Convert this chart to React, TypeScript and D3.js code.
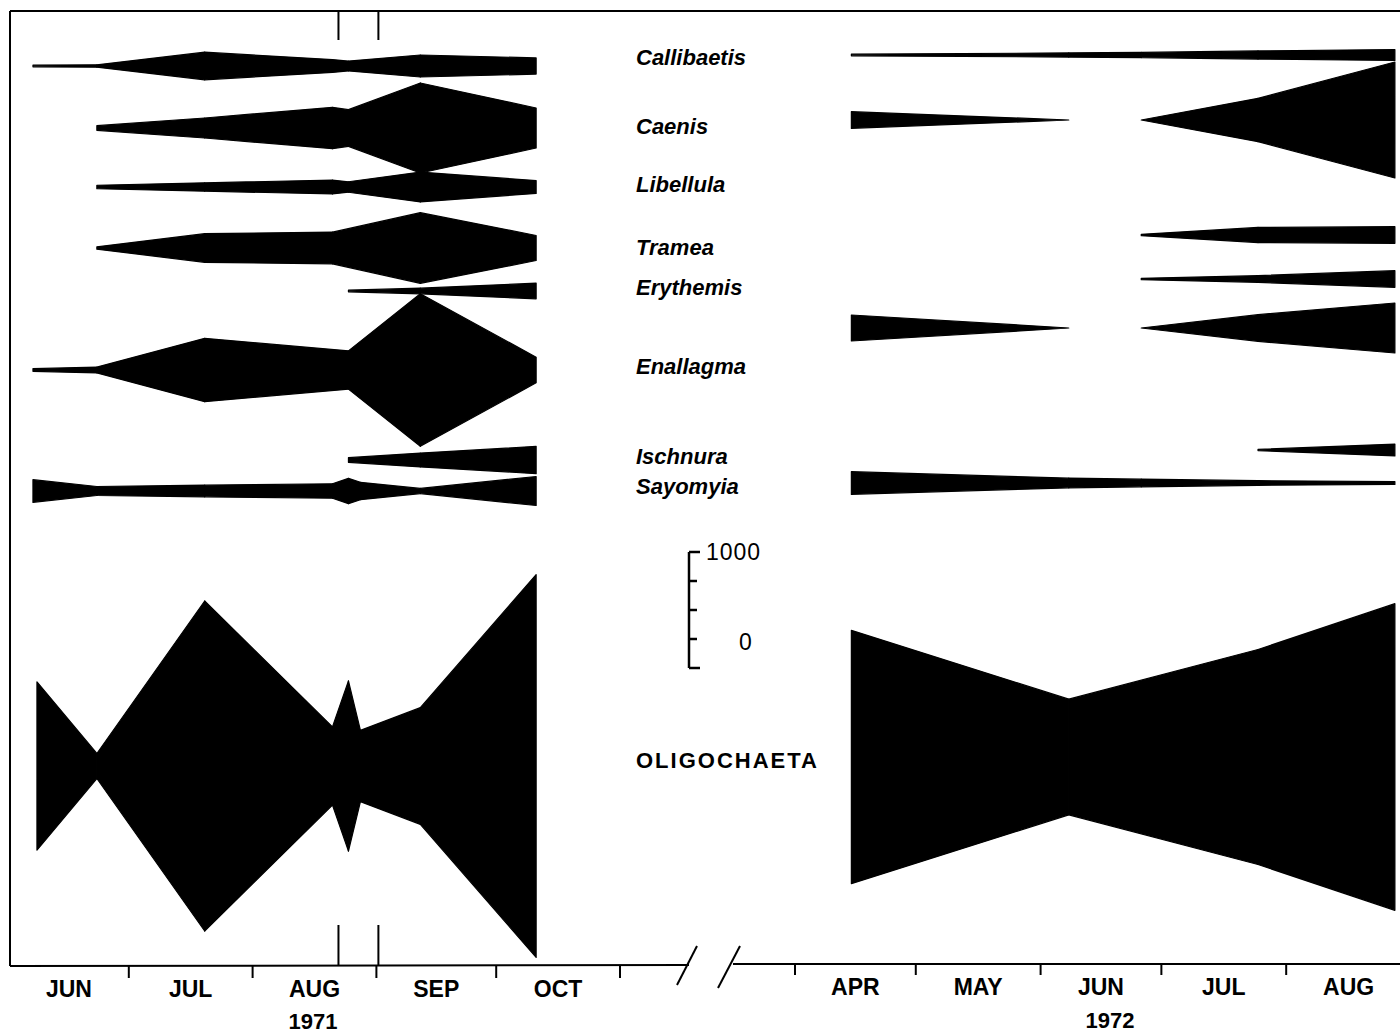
import React from 'react';
import * as d3 from 'd3';

const W = 1400;
const H = 1036;

// ---------- data ----------
type Pt = [string, number];

const months1971 = ['JUN', 'JUL', 'AUG', 'SEP', 'OCT'];
const months1972 = ['APR', 'MAY', 'JUN', 'JUL', 'AUG'];
const scaleTicks = [0, 250, 500, 750, 1000];
const markerDates1971 = ['1971-08-22', '1971-09-01'];

const taxa = ['Callibaetis', 'Caenis', 'Libellula', 'Tramea', 'Erythemis', 'Enallagma', 'Ischnura', 'Sayomyia', 'OLIGOCHAETA'];

// 1971 (numbers per sample, read from kite widths)
const callibaetis1971: Pt[] = [['1971-06-07', 15], ['1971-06-23', 20], ['1971-07-20', 238], ['1971-08-21', 110], ['1971-08-25', 85], ['1971-09-12', 190], ['1971-10-11', 140]];
const caenis1971: Pt[] = [['1971-06-23', 40], ['1971-07-20', 172], ['1971-08-21', 357], ['1971-08-25', 316], ['1971-09-12', 776], ['1971-10-11', 345]];
const libellula1971: Pt[] = [['1971-06-23', 30], ['1971-07-20', 72], ['1971-08-21', 120], ['1971-08-25', 90], ['1971-09-12', 258], ['1971-10-11', 110]];
const tramea1971: Pt[] = [['1971-06-23', 20], ['1971-07-20', 247], ['1971-08-21', 273], ['1971-09-12', 609], ['1971-10-11', 215]];
const erythemis1971: Pt[] = [['1971-08-25', 15], ['1971-09-12', 49], ['1971-10-11', 135]];
const enallagma1971: Pt[] = [['1971-06-07', 22], ['1971-06-23', 50], ['1971-07-20', 546], ['1971-08-25', 330], ['1971-09-12', 1316], ['1971-10-11', 220]];
const ischnura1971: Pt[] = [['1971-08-25', 40], ['1971-09-12', 120], ['1971-10-11', 235]];
const sayomyia1971: Pt[] = [['1971-06-07', 196], ['1971-06-23', 78], ['1971-07-20', 100], ['1971-08-21', 125], ['1971-08-25', 218], ['1971-08-28', 150], ['1971-09-12', 45], ['1971-10-11', 250]];
const oligochaeta1971: Pt[] = [['1971-06-08', 1451], ['1971-06-23', 216], ['1971-07-20', 2845], ['1971-08-21', 675], ['1971-08-25', 1466], ['1971-08-28', 615], ['1971-09-12', 1006], ['1971-10-11', 3300]];

// 1972
const callibaetis1972: Pt[] = [['1972-04-15', 15], ['1972-06-08', 35], ['1972-06-26', 45], ['1972-07-25', 70], ['1972-08-28', 95]];
const caenis1972: Pt[] = [['1972-04-15', 144], ['1972-06-08', 0], ['1972-06-26', 0], ['1972-07-25', 373], ['1972-08-28', 1000]];
const tramea1972: Pt[] = [['1972-06-26', 12], ['1972-07-25', 130], ['1972-08-28', 144]];
const erythemis1972: Pt[] = [['1972-06-26', 12], ['1972-07-25', 58], ['1972-08-28', 144]];
const enallagma1972: Pt[] = [['1972-04-15', 224], ['1972-06-08', 0], ['1972-06-26', 0], ['1972-07-25', 230], ['1972-08-28', 431]];
const ischnura1972: Pt[] = [['1972-07-25', 10], ['1972-08-28', 103]];
const sayomyia1972: Pt[] = [['1972-04-15', 196], ['1972-06-08', 83], ['1972-06-26', 66], ['1972-07-25', 40], ['1972-08-28', 25]];
const oligochaeta1972: Pt[] = [['1972-04-15', 2184], ['1972-06-08', 997], ['1972-07-25', 1853], ['1972-08-28', 2644]];

const series1971 = [callibaetis1971, caenis1971, libellula1971, tramea1971, erythemis1971, enallagma1971, ischnura1971, sayomyia1971, oligochaeta1971];
const series1972 = [callibaetis1972, caenis1972, null, tramea1972, erythemis1972, enallagma1972, ischnura1972, sayomyia1972, oligochaeta1972];

// ---------- layout ----------
const centers1971 = [66, 128, 187, 248, 291, 370, 460, 491, 766];
const centers1972 = [55, 120, 187, 235, 279, 328, 450, 483, 757];
const labelY = [57, 126, 184, 247, 287, 366, 456, 486, 760];

const parse = d3.timeParse('%Y-%m-%d');
const FONT = '"Liberation Sans", Arial, Helvetica, sans-serif';

const x1971 = d3.scaleTime().domain([parse('1971-06-01')!, parse('1971-11-01')!]).range([9, 620]);
const x1972 = d3.scaleTime().domain([parse('1972-04-01')!, parse('1972-09-01')!]).range([795, 1411]);
const wScale = d3.scaleLinear().domain([0, 1000]).range([0, 116]);

function kite(pts: Pt[], x: d3.ScaleTime<number, number>, cy: number): string[] {
  const data = pts.map(([d, v]) => ({ d: parse(d)!, v }));
  const area = d3
    .area<{ d: Date; v: number }>()
    .x((p) => x(p.d))
    .y0((p) => cy + wScale(p.v) / 2)
    .y1((p) => cy - wScale(p.v) / 2);
  const out: string[] = [];
  for (let i = 0; i < data.length - 1; i++) {
    if (data[i].v === 0 && data[i + 1].v === 0) continue;
    const p = area([data[i], data[i + 1]]);
    if (p) out.push(p);
  }
  return out;
}

export default function App() {
  const axisY1 = 966;
  const axisY2 = 964;
  const leftTicks = d3.timeMonth.range(parse('1971-07-01')!, parse('1971-11-02')!);
  const rightTicks = d3.timeMonth.range(parse('1972-04-01')!, parse('1972-08-02')!);
  const leftMonths = d3.timeMonth.range(parse('1971-06-01')!, parse('1971-11-01')!);
  const rightMonths = d3.timeMonth.range(parse('1972-04-01')!, parse('1972-09-01')!);

  const barX = 689;
  const barTop = 552;

  return (
    <svg width={W} height={H} style={{ position: 'absolute', left: 0, top: 0, background: '#fff' }} fontFamily={FONT}>
      <rect x={0} y={0} width={W} height={H} fill="#fff" />
      {/* frame */}
      <line x1={10} y1={11} x2={W} y2={11} stroke="#000" strokeWidth={2} />
      <line x1={10} y1={11} x2={10} y2={axisY1} stroke="#000" strokeWidth={2} />
      {/* left axis */}
      <line x1={10} y1={axisY1} x2={689} y2={axisY1 - 1} stroke="#000" strokeWidth={2} />
      {leftTicks.map((t, i) => (
        <line key={'lt' + i} x1={x1971(t)} x2={x1971(t)} y1={axisY1} y2={axisY1 + 12} stroke="#000" strokeWidth={2} />
      ))}
      {leftMonths.map((m, i) => (
        <text key={'lm' + i} x={(x1971(m) + x1971(d3.timeMonth.offset(m, 1))) / 2} y={997} textAnchor="middle" fontSize={23} fontWeight="bold">
          {months1971[i]}
        </text>
      ))}
      <text x={313} y={1029} textAnchor="middle" fontSize={22} fontWeight="bold">1971</text>
      {/* markers */}
      {markerDates1971.map((d, i) => (
        <g key={'mk' + i}>
          <line x1={x1971(parse(d)!) + 2} x2={x1971(parse(d)!) + 2} y1={11} y2={40} stroke="#000" strokeWidth={2} />
          <line x1={x1971(parse(d)!) + 2} x2={x1971(parse(d)!) + 2} y1={925} y2={axisY1} stroke="#000" strokeWidth={2} />
        </g>
      ))}
      {/* break */}
      <line x1={677} y1={985} x2={697} y2={946} stroke="#000" strokeWidth={2} />
      <line x1={718} y1={988} x2={740} y2={946} stroke="#000" strokeWidth={2} />
      {/* right axis */}
      <line x1={733} y1={axisY2} x2={W} y2={axisY2} stroke="#000" strokeWidth={2} />
      {rightTicks.map((t, i) => (
        <line key={'rt' + i} x1={x1972(t)} x2={x1972(t)} y1={axisY2} y2={axisY2 + 11} stroke="#000" strokeWidth={2} />
      ))}
      {rightMonths.map((m, i) => (
        <text key={'rm' + i} x={(x1972(m) + x1972(d3.timeMonth.offset(m, 1))) / 2} y={995} textAnchor="middle" fontSize={23} fontWeight="bold">
          {months1972[i]}
        </text>
      ))}
      <text x={1110} y={1028} textAnchor="middle" fontSize={22} fontWeight="bold">1972</text>

      {/* kites */}
      {series1971.map((s, i) =>
        kite(s, x1971, centers1971[i]).map((p, j) => (
          <path key={'k71' + i + '_' + j} d={p} fill="#000" stroke="#000" strokeWidth={1.2} strokeLinejoin="round" />
        ))
      )}
      {series1972.map((s, i) =>
        s
          ? kite(s, x1972, centers1972[i]).map((p, j) => (
              <path key={'k72' + i + '_' + j} d={p} fill="#000" stroke="#000" strokeWidth={1.2} strokeLinejoin="round" />
            ))
          : null
      )}

      {/* taxon labels */}
      {taxa.map((t, i) =>
        i < taxa.length - 1 ? (
          <text key={'tx' + i} x={636} y={labelY[i] + 8} fontSize={22} fontWeight="bold" fontStyle="italic">
            {t}
          </text>
        ) : (
          <text key={'tx' + i} x={636} y={labelY[i] + 8} fontSize={22} fontWeight="bold" letterSpacing={2}>
            {t}
          </text>
        )
      )}

      {/* scale bar */}
      <line x1={barX} x2={barX} y1={barTop + wScale(0)} y2={barTop + wScale(1000)} stroke="#000" strokeWidth={2.5} />
      {scaleTicks.map((v, i) => (
        <line
          key={'sb' + i}
          x1={barX}
          x2={barX + (v === 0 || v === 1000 ? 11 : 8)}
          y1={barTop + wScale(1000 - v)}
          y2={barTop + wScale(1000 - v)}
          stroke="#000"
          strokeWidth={2.5}
        />
      ))}
      <text x={706} y={barTop + 8} fontSize={23} letterSpacing={1}>1000</text>
      <text x={739} y={barTop + wScale(1000) - 18} fontSize={23}>0</text>
    </svg>
  );
}
